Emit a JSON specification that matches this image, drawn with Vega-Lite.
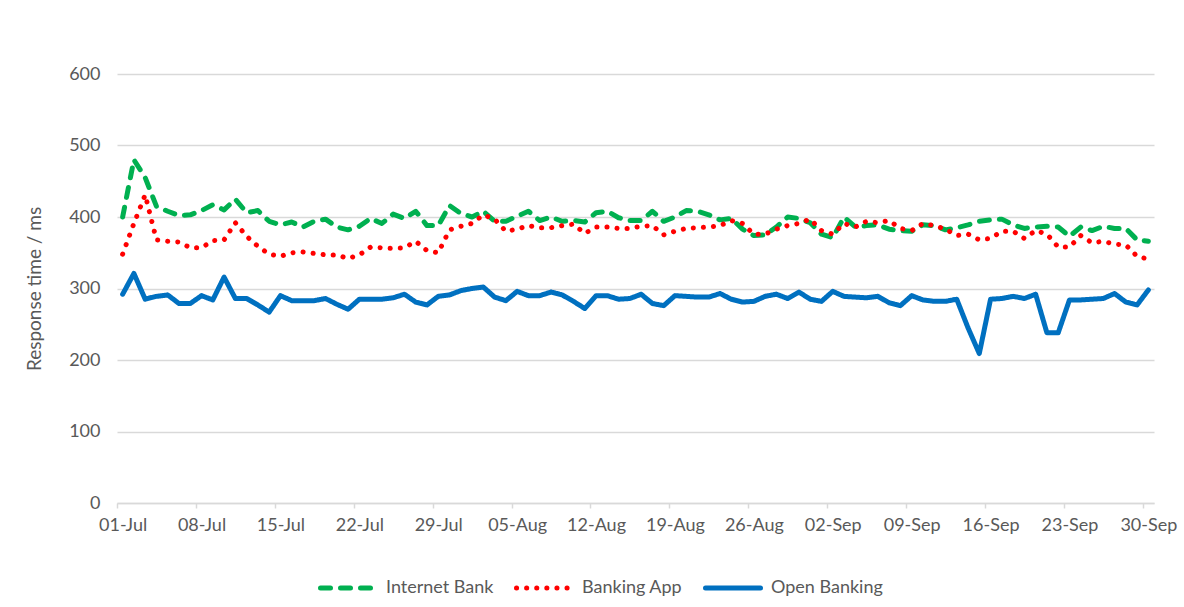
{
  "$schema": "https://vega.github.io/schema/vega-lite/v6.json",
  "width": 1037,
  "height": 429,
  "autosize": {"type": "none"},
  "padding": {"left": 117, "top": 74, "right": 30, "bottom": 104},
  "background": "white",
  "config": {
    "font": "Lato",
    "view": {"stroke": null},
    "axis": {"labelColor": "#595959", "titleColor": "#595959", "labelFontSize": 18, "titleFontSize": 19, "titleFontWeight": "normal"},
    "legend": {"labelColor": "#595959", "labelFontSize": 18}
  },
  "data": {"values": [
{"date":"2023-07-01","series":"Internet Bank","value":400},{"date":"2023-07-02","series":"Internet Bank","value":480},{"date":"2023-07-03","series":"Internet Bank","value":455},{"date":"2023-07-04","series":"Internet Bank","value":415},{"date":"2023-07-05","series":"Internet Bank","value":408},{"date":"2023-07-06","series":"Internet Bank","value":402},{"date":"2023-07-07","series":"Internet Bank","value":403},{"date":"2023-07-08","series":"Internet Bank","value":409},{"date":"2023-07-09","series":"Internet Bank","value":417},{"date":"2023-07-10","series":"Internet Bank","value":410},{"date":"2023-07-11","series":"Internet Bank","value":425},{"date":"2023-07-12","series":"Internet Bank","value":406},{"date":"2023-07-13","series":"Internet Bank","value":409},{"date":"2023-07-14","series":"Internet Bank","value":394},{"date":"2023-07-15","series":"Internet Bank","value":389},{"date":"2023-07-16","series":"Internet Bank","value":393},{"date":"2023-07-17","series":"Internet Bank","value":386},{"date":"2023-07-18","series":"Internet Bank","value":394},{"date":"2023-07-19","series":"Internet Bank","value":397},{"date":"2023-07-20","series":"Internet Bank","value":386},{"date":"2023-07-21","series":"Internet Bank","value":382},{"date":"2023-07-22","series":"Internet Bank","value":387},{"date":"2023-07-23","series":"Internet Bank","value":398},{"date":"2023-07-24","series":"Internet Bank","value":391},{"date":"2023-07-25","series":"Internet Bank","value":404},{"date":"2023-07-26","series":"Internet Bank","value":398},{"date":"2023-07-27","series":"Internet Bank","value":408},{"date":"2023-07-28","series":"Internet Bank","value":388},{"date":"2023-07-29","series":"Internet Bank","value":388},{"date":"2023-07-30","series":"Internet Bank","value":416},{"date":"2023-07-31","series":"Internet Bank","value":405},
{"date":"2023-08-01","series":"Internet Bank","value":400},{"date":"2023-08-02","series":"Internet Bank","value":408},{"date":"2023-08-03","series":"Internet Bank","value":394},{"date":"2023-08-04","series":"Internet Bank","value":394},{"date":"2023-08-05","series":"Internet Bank","value":401},{"date":"2023-08-06","series":"Internet Bank","value":408},{"date":"2023-08-07","series":"Internet Bank","value":395},{"date":"2023-08-08","series":"Internet Bank","value":400},{"date":"2023-08-09","series":"Internet Bank","value":394},{"date":"2023-08-10","series":"Internet Bank","value":395},{"date":"2023-08-11","series":"Internet Bank","value":393},{"date":"2023-08-12","series":"Internet Bank","value":406},{"date":"2023-08-13","series":"Internet Bank","value":408},{"date":"2023-08-14","series":"Internet Bank","value":399},{"date":"2023-08-15","series":"Internet Bank","value":395},{"date":"2023-08-16","series":"Internet Bank","value":395},{"date":"2023-08-17","series":"Internet Bank","value":408},{"date":"2023-08-18","series":"Internet Bank","value":394},{"date":"2023-08-19","series":"Internet Bank","value":400},{"date":"2023-08-20","series":"Internet Bank","value":409},{"date":"2023-08-21","series":"Internet Bank","value":408},{"date":"2023-08-22","series":"Internet Bank","value":403},{"date":"2023-08-23","series":"Internet Bank","value":396},{"date":"2023-08-24","series":"Internet Bank","value":398},{"date":"2023-08-25","series":"Internet Bank","value":383},{"date":"2023-08-26","series":"Internet Bank","value":374},{"date":"2023-08-27","series":"Internet Bank","value":375},{"date":"2023-08-28","series":"Internet Bank","value":386},{"date":"2023-08-29","series":"Internet Bank","value":400},{"date":"2023-08-30","series":"Internet Bank","value":398},{"date":"2023-08-31","series":"Internet Bank","value":392},
{"date":"2023-09-01","series":"Internet Bank","value":376},{"date":"2023-09-02","series":"Internet Bank","value":371},{"date":"2023-09-03","series":"Internet Bank","value":400},{"date":"2023-09-04","series":"Internet Bank","value":386},{"date":"2023-09-05","series":"Internet Bank","value":388},{"date":"2023-09-06","series":"Internet Bank","value":389},{"date":"2023-09-07","series":"Internet Bank","value":383},{"date":"2023-09-08","series":"Internet Bank","value":381},{"date":"2023-09-09","series":"Internet Bank","value":380},{"date":"2023-09-10","series":"Internet Bank","value":389},{"date":"2023-09-11","series":"Internet Bank","value":388},{"date":"2023-09-12","series":"Internet Bank","value":382},{"date":"2023-09-13","series":"Internet Bank","value":385},{"date":"2023-09-14","series":"Internet Bank","value":389},{"date":"2023-09-15","series":"Internet Bank","value":394},{"date":"2023-09-16","series":"Internet Bank","value":396},{"date":"2023-09-17","series":"Internet Bank","value":397},{"date":"2023-09-18","series":"Internet Bank","value":389},{"date":"2023-09-19","series":"Internet Bank","value":384},{"date":"2023-09-20","series":"Internet Bank","value":386},{"date":"2023-09-21","series":"Internet Bank","value":387},{"date":"2023-09-22","series":"Internet Bank","value":386},{"date":"2023-09-23","series":"Internet Bank","value":373},{"date":"2023-09-24","series":"Internet Bank","value":386},{"date":"2023-09-25","series":"Internet Bank","value":381},{"date":"2023-09-26","series":"Internet Bank","value":387},{"date":"2023-09-27","series":"Internet Bank","value":384},{"date":"2023-09-28","series":"Internet Bank","value":384},{"date":"2023-09-29","series":"Internet Bank","value":368},{"date":"2023-09-30","series":"Internet Bank","value":366},
{"date":"2023-07-01","series":"Banking App","value":348},{"date":"2023-07-02","series":"Banking App","value":391},{"date":"2023-07-03","series":"Banking App","value":431},{"date":"2023-07-04","series":"Banking App","value":368},{"date":"2023-07-05","series":"Banking App","value":366},{"date":"2023-07-06","series":"Banking App","value":365},{"date":"2023-07-07","series":"Banking App","value":357},{"date":"2023-07-08","series":"Banking App","value":357},{"date":"2023-07-09","series":"Banking App","value":367},{"date":"2023-07-10","series":"Banking App","value":368},{"date":"2023-07-11","series":"Banking App","value":392},{"date":"2023-07-12","series":"Banking App","value":373},{"date":"2023-07-13","series":"Banking App","value":359},{"date":"2023-07-14","series":"Banking App","value":348},{"date":"2023-07-15","series":"Banking App","value":345},{"date":"2023-07-16","series":"Banking App","value":350},{"date":"2023-07-17","series":"Banking App","value":351},{"date":"2023-07-18","series":"Banking App","value":349},{"date":"2023-07-19","series":"Banking App","value":347},{"date":"2023-07-20","series":"Banking App","value":347},{"date":"2023-07-21","series":"Banking App","value":342},{"date":"2023-07-22","series":"Banking App","value":347},{"date":"2023-07-23","series":"Banking App","value":358},{"date":"2023-07-24","series":"Banking App","value":357},{"date":"2023-07-25","series":"Banking App","value":356},{"date":"2023-07-26","series":"Banking App","value":357},{"date":"2023-07-27","series":"Banking App","value":366},{"date":"2023-07-28","series":"Banking App","value":353},{"date":"2023-07-29","series":"Banking App","value":350},{"date":"2023-07-30","series":"Banking App","value":382},{"date":"2023-07-31","series":"Banking App","value":387},
{"date":"2023-08-01","series":"Banking App","value":391},{"date":"2023-08-02","series":"Banking App","value":403},{"date":"2023-08-03","series":"Banking App","value":397},{"date":"2023-08-04","series":"Banking App","value":380},{"date":"2023-08-05","series":"Banking App","value":383},{"date":"2023-08-06","series":"Banking App","value":388},{"date":"2023-08-07","series":"Banking App","value":385},{"date":"2023-08-08","series":"Banking App","value":385},{"date":"2023-08-09","series":"Banking App","value":388},{"date":"2023-08-10","series":"Banking App","value":390},{"date":"2023-08-11","series":"Banking App","value":377},{"date":"2023-08-12","series":"Banking App","value":386},{"date":"2023-08-13","series":"Banking App","value":386},{"date":"2023-08-14","series":"Banking App","value":384},{"date":"2023-08-15","series":"Banking App","value":384},{"date":"2023-08-16","series":"Banking App","value":387},{"date":"2023-08-17","series":"Banking App","value":388},{"date":"2023-08-18","series":"Banking App","value":375},{"date":"2023-08-19","series":"Banking App","value":380},{"date":"2023-08-20","series":"Banking App","value":384},{"date":"2023-08-21","series":"Banking App","value":385},{"date":"2023-08-22","series":"Banking App","value":386},{"date":"2023-08-23","series":"Banking App","value":388},{"date":"2023-08-24","series":"Banking App","value":395},{"date":"2023-08-25","series":"Banking App","value":391},{"date":"2023-08-26","series":"Banking App","value":376},{"date":"2023-08-27","series":"Banking App","value":376},{"date":"2023-08-28","series":"Banking App","value":383},{"date":"2023-08-29","series":"Banking App","value":388},{"date":"2023-08-30","series":"Banking App","value":391},{"date":"2023-08-31","series":"Banking App","value":397},
{"date":"2023-09-01","series":"Banking App","value":381},{"date":"2023-09-02","series":"Banking App","value":376},{"date":"2023-09-03","series":"Banking App","value":391},{"date":"2023-09-04","series":"Banking App","value":386},{"date":"2023-09-05","series":"Banking App","value":394},{"date":"2023-09-06","series":"Banking App","value":392},{"date":"2023-09-07","series":"Banking App","value":395},{"date":"2023-09-08","series":"Banking App","value":384},{"date":"2023-09-09","series":"Banking App","value":381},{"date":"2023-09-10","series":"Banking App","value":391},{"date":"2023-09-11","series":"Banking App","value":388},{"date":"2023-09-12","series":"Banking App","value":383},{"date":"2023-09-13","series":"Banking App","value":374},{"date":"2023-09-14","series":"Banking App","value":376},{"date":"2023-09-15","series":"Banking App","value":368},{"date":"2023-09-16","series":"Banking App","value":370},{"date":"2023-09-17","series":"Banking App","value":380},{"date":"2023-09-18","series":"Banking App","value":380},{"date":"2023-09-19","series":"Banking App","value":370},{"date":"2023-09-20","series":"Banking App","value":381},{"date":"2023-09-21","series":"Banking App","value":376},{"date":"2023-09-22","series":"Banking App","value":358},{"date":"2023-09-23","series":"Banking App","value":358},{"date":"2023-09-24","series":"Banking App","value":374},{"date":"2023-09-25","series":"Banking App","value":364},{"date":"2023-09-26","series":"Banking App","value":366},{"date":"2023-09-27","series":"Banking App","value":362},{"date":"2023-09-28","series":"Banking App","value":361},{"date":"2023-09-29","series":"Banking App","value":345},{"date":"2023-09-30","series":"Banking App","value":341},
{"date":"2023-07-01","series":"Open Banking","value":292},{"date":"2023-07-02","series":"Open Banking","value":321},{"date":"2023-07-03","series":"Open Banking","value":285},{"date":"2023-07-04","series":"Open Banking","value":289},{"date":"2023-07-05","series":"Open Banking","value":291},{"date":"2023-07-06","series":"Open Banking","value":279},{"date":"2023-07-07","series":"Open Banking","value":279},{"date":"2023-07-08","series":"Open Banking","value":290},{"date":"2023-07-09","series":"Open Banking","value":284},{"date":"2023-07-10","series":"Open Banking","value":316},{"date":"2023-07-11","series":"Open Banking","value":286},{"date":"2023-07-12","series":"Open Banking","value":286},{"date":"2023-07-13","series":"Open Banking","value":277},{"date":"2023-07-14","series":"Open Banking","value":267},{"date":"2023-07-15","series":"Open Banking","value":290},{"date":"2023-07-16","series":"Open Banking","value":283},{"date":"2023-07-17","series":"Open Banking","value":283},{"date":"2023-07-18","series":"Open Banking","value":283},{"date":"2023-07-19","series":"Open Banking","value":286},{"date":"2023-07-20","series":"Open Banking","value":278},{"date":"2023-07-21","series":"Open Banking","value":271},{"date":"2023-07-22","series":"Open Banking","value":285},{"date":"2023-07-23","series":"Open Banking","value":285},{"date":"2023-07-24","series":"Open Banking","value":285},{"date":"2023-07-25","series":"Open Banking","value":287},{"date":"2023-07-26","series":"Open Banking","value":292},{"date":"2023-07-27","series":"Open Banking","value":281},{"date":"2023-07-28","series":"Open Banking","value":277},{"date":"2023-07-29","series":"Open Banking","value":289},{"date":"2023-07-30","series":"Open Banking","value":291},{"date":"2023-07-31","series":"Open Banking","value":297},
{"date":"2023-08-01","series":"Open Banking","value":300},{"date":"2023-08-02","series":"Open Banking","value":302},{"date":"2023-08-03","series":"Open Banking","value":288},{"date":"2023-08-04","series":"Open Banking","value":283},{"date":"2023-08-05","series":"Open Banking","value":296},{"date":"2023-08-06","series":"Open Banking","value":290},{"date":"2023-08-07","series":"Open Banking","value":290},{"date":"2023-08-08","series":"Open Banking","value":295},{"date":"2023-08-09","series":"Open Banking","value":291},{"date":"2023-08-10","series":"Open Banking","value":282},{"date":"2023-08-11","series":"Open Banking","value":272},{"date":"2023-08-12","series":"Open Banking","value":290},{"date":"2023-08-13","series":"Open Banking","value":290},{"date":"2023-08-14","series":"Open Banking","value":285},{"date":"2023-08-15","series":"Open Banking","value":286},{"date":"2023-08-16","series":"Open Banking","value":292},{"date":"2023-08-17","series":"Open Banking","value":279},{"date":"2023-08-18","series":"Open Banking","value":276},{"date":"2023-08-19","series":"Open Banking","value":290},{"date":"2023-08-20","series":"Open Banking","value":289},{"date":"2023-08-21","series":"Open Banking","value":288},{"date":"2023-08-22","series":"Open Banking","value":288},{"date":"2023-08-23","series":"Open Banking","value":293},{"date":"2023-08-24","series":"Open Banking","value":285},{"date":"2023-08-25","series":"Open Banking","value":281},{"date":"2023-08-26","series":"Open Banking","value":282},{"date":"2023-08-27","series":"Open Banking","value":289},{"date":"2023-08-28","series":"Open Banking","value":292},{"date":"2023-08-29","series":"Open Banking","value":286},{"date":"2023-08-30","series":"Open Banking","value":295},{"date":"2023-08-31","series":"Open Banking","value":285},
{"date":"2023-09-01","series":"Open Banking","value":282},{"date":"2023-09-02","series":"Open Banking","value":296},{"date":"2023-09-03","series":"Open Banking","value":289},{"date":"2023-09-04","series":"Open Banking","value":288},{"date":"2023-09-05","series":"Open Banking","value":287},{"date":"2023-09-06","series":"Open Banking","value":289},{"date":"2023-09-07","series":"Open Banking","value":280},{"date":"2023-09-08","series":"Open Banking","value":276},{"date":"2023-09-09","series":"Open Banking","value":290},{"date":"2023-09-10","series":"Open Banking","value":284},{"date":"2023-09-11","series":"Open Banking","value":282},{"date":"2023-09-12","series":"Open Banking","value":282},{"date":"2023-09-13","series":"Open Banking","value":285},{"date":"2023-09-14","series":"Open Banking","value":245},{"date":"2023-09-15","series":"Open Banking","value":209},{"date":"2023-09-16","series":"Open Banking","value":285},{"date":"2023-09-17","series":"Open Banking","value":286},{"date":"2023-09-18","series":"Open Banking","value":289},{"date":"2023-09-19","series":"Open Banking","value":286},{"date":"2023-09-20","series":"Open Banking","value":292},{"date":"2023-09-21","series":"Open Banking","value":238},{"date":"2023-09-22","series":"Open Banking","value":238},{"date":"2023-09-23","series":"Open Banking","value":284},{"date":"2023-09-24","series":"Open Banking","value":284},{"date":"2023-09-25","series":"Open Banking","value":285},{"date":"2023-09-26","series":"Open Banking","value":286},{"date":"2023-09-27","series":"Open Banking","value":293},{"date":"2023-09-28","series":"Open Banking","value":281},{"date":"2023-09-29","series":"Open Banking","value":277},{"date":"2023-09-30","series":"Open Banking","value":298}
  ]},
  "mark": {"type": "line", "strokeWidth": 5, "strokeCap": "round", "strokeJoin": "round"},
  "encoding": {
    "x": {
      "field": "date", "type": "temporal",
      "scale": {"type": "utc", "domain": [{"year": 2023, "month": 6, "date": 30, "hours": 12, "utc": true}, {"year": 2023, "month": 9, "date": 30, "hours": 12, "utc": true}]},
      "axis": {
        "title": null, "grid": false, "format": "%d-%b",
        "values": [
          {"year": 2023, "month": 7, "date": 1, "utc": true}, {"year": 2023, "month": 7, "date": 8, "utc": true}, {"year": 2023, "month": 7, "date": 15, "utc": true}, {"year": 2023, "month": 7, "date": 22, "utc": true}, {"year": 2023, "month": 7, "date": 29, "utc": true},
          {"year": 2023, "month": 8, "date": 5, "utc": true}, {"year": 2023, "month": 8, "date": 12, "utc": true}, {"year": 2023, "month": 8, "date": 19, "utc": true}, {"year": 2023, "month": 8, "date": 26, "utc": true},
          {"year": 2023, "month": 9, "date": 2, "utc": true}, {"year": 2023, "month": 9, "date": 9, "utc": true}, {"year": 2023, "month": 9, "date": 16, "utc": true}, {"year": 2023, "month": 9, "date": 23, "utc": true}, {"year": 2023, "month": 9, "date": 30, "utc": true}
        ],
        "domainColor": "#D9D9D9", "domainWidth": 1.5, "tickColor": "#D9D9D9", "tickWidth": 1.5, "tickSize": 5,
        "tickOffset": -5.64, "labelOffset": 5.64, "labelPadding": 8, "labelFlush": false, "labelOverlap": false
      }
    },
    "y": {
      "field": "value", "type": "quantitative",
      "scale": {"domain": [0, 600], "nice": false},
      "axis": {
        "title": "Response time / ms", "values": [0, 100, 200, 300, 400, 500, 600],
        "domain": false, "ticks": false, "gridColor": "#D9D9D9", "gridWidth": 1.3,
        "labelPadding": 17, "titlePadding": 24
      }
    },
    "color": {
      "field": "series", "type": "nominal",
      "scale": {"domain": ["Internet Bank", "Banking App", "Open Banking"], "range": ["#00B050", "#FF0000", "#0070C0"]},
      "legend": {
        "title": null, "orient": "none", "direction": "horizontal", "legendX": 201, "legendY": 484,
        "symbolType": "stroke", "symbolSize": 3025, "symbolStrokeWidth": 5, "symbolOpacity": 1, "labelOffset": 8, "columnPadding": 12,
        "encode": {"symbols": {"update": {"strokeCap": {"value": "round"}, "opacity": {"value": 1}}}}
      }
    },
    "strokeDash": {
      "field": "series", "type": "nominal",
      "scale": {"domain": ["Internet Bank", "Banking App", "Open Banking"], "range": [[10, 10], [0.1, 10], [1, 0]]},
      "legend": null
    }
  }
}
